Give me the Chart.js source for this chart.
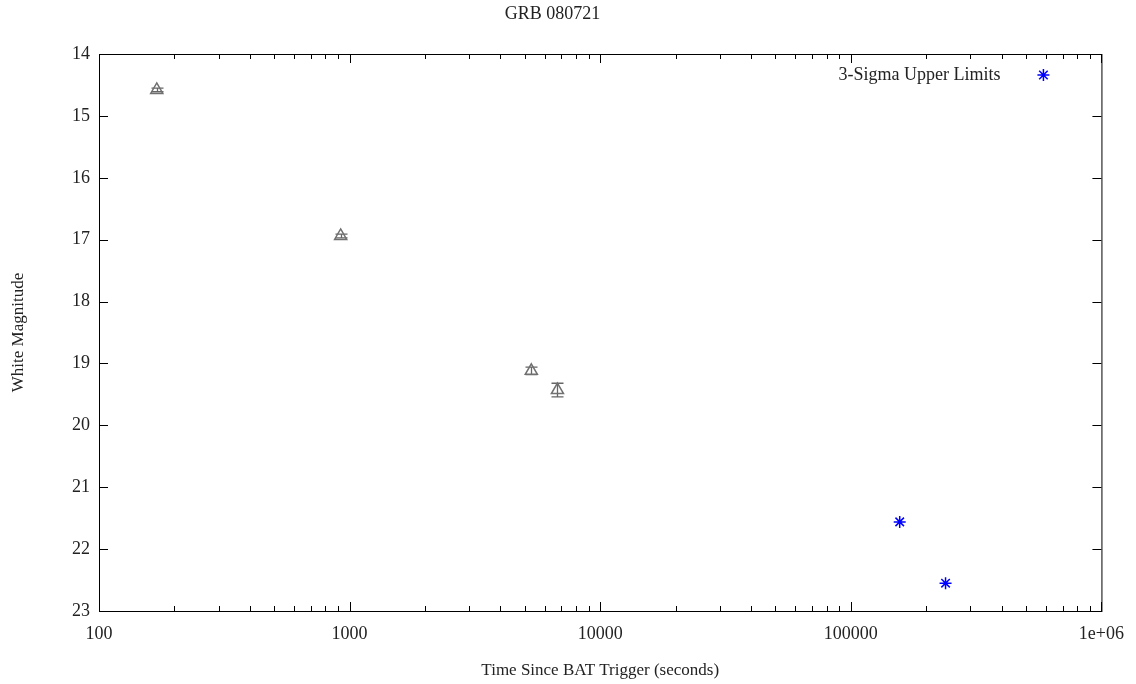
<!DOCTYPE html>
<html>
<head>
<meta charset="utf-8">
<script src="https://cdn.jsdelivr.net/npm/chart.js@4"></script>
<style>
  html, body { margin: 0; padding: 0; background: #fff; }
  #wrap { width: 1136px; height: 684px; }
</style>
</head>
<body>
<div id="wrap"><canvas id="grbChart"></canvas></div>
<script>
// detections (white filter)
const detTimes = [170, 921, 5310, 6750];
const detMags = [14.58, 16.94, 19.12, 19.43];
const detErrs = [0.03, 0.03, 0.06, 0.11];
// 3-sigma upper limits
const ulTimes = [156700, 238800];
const ulMags = [21.56, 22.55];
// axis labels
const xMajorTicks = [100, 1000, 10000, 100000, 1000000];
const xMajorLabels = ['100', '1000', '10000', '100000', '1e+06'];
const yTicks = [14, 15, 16, 17, 18, 19, 20, 21, 22, 23];

const FONT = "'Liberation Serif', 'DejaVu Serif', serif";

const detPoints = detTimes.map((t, i) => ({ x: t, y: detMags[i], err: detErrs[i] }));
const ulPoints = ulTimes.map((t, i) => ({ x: t, y: ulMags[i] }));

// gnuplot-like frame with inward ticks, error bars and key
const framePlugin = {
    id: 'frame',
    beforeDatasetsDraw(chart) {
        const ctx = chart.ctx;
        const a = chart.chartArea;
        const xs = chart.scales.x;
        const ys = chart.scales.y;
        ctx.save();
        ctx.strokeStyle = '#000';
        ctx.lineWidth = 1;
        ctx.strokeRect(a.left + 0.5, a.top + 0.5, a.right - a.left, a.bottom - a.top);
        ctx.beginPath();
        // x ticks: decades and 2..9 minors
        for (let d = 100; d <= 1000000; d *= 10) {
            for (let m = 1; m <= 9; m++) {
                const v = d * m;
                if (v > 1000000) break;
                const px = Math.round(xs.getPixelForValue(v)) + 0.5;
                const len = m === 1 ? 9 : 5;
                ctx.moveTo(px, a.bottom);
                ctx.lineTo(px, a.bottom - len);
                ctx.moveTo(px, a.top);
                ctx.lineTo(px, a.top + len);
            }
        }
        yTicks.forEach(v => {
            const py = Math.round(ys.getPixelForValue(v)) + 0.5;
            ctx.moveTo(a.left, py);
            ctx.lineTo(a.left + 9, py);
            ctx.moveTo(a.right, py);
            ctx.lineTo(a.right - 9, py);
        });
        ctx.stroke();

        // error bars for detections
        ctx.strokeStyle = '#666';
        ctx.lineWidth = 1.3;
        ctx.beginPath();
        detPoints.forEach(p => {
            const px = Math.round(xs.getPixelForValue(p.x)) + 0.5;
            const y1 = ys.getPixelForValue(p.y - p.err);
            const y2 = ys.getPixelForValue(p.y + p.err);
            ctx.moveTo(px, y1);
            ctx.lineTo(px, y2);
            ctx.moveTo(px - 6, y1);
            ctx.lineTo(px + 6, y1);
            ctx.moveTo(px - 6, y2);
            ctx.lineTo(px + 6, y2);
        });
        ctx.stroke();
        ctx.restore();
    },
    afterDatasetsDraw(chart) {
        const ctx = chart.ctx;
        const a = chart.chartArea;
        ctx.save();
        ctx.font = '18px ' + FONT;
        ctx.fillStyle = '#222';
        ctx.textAlign = 'right';
        ctx.textBaseline = 'middle';
        ctx.fillText('3-Sigma Upper Limits', a.right - 101, a.top + 21);
        ctx.strokeStyle = '#0000ff';
        ctx.fillStyle = '#0000ff';
        ctx.lineWidth = 1.5;
        Chart.helpers.drawPoint(ctx, {
            pointStyle: 'star', radius: 6, rotation: 0,
            borderWidth: 1.5
        }, a.right - 58, a.top + 21);
        ctx.restore();
    }
};

// only label the decades
function xLabel(value) {
    const idx = xMajorTicks.indexOf(value);
    return idx >= 0 ? xMajorLabels[idx] : '';
}

new Chart(document.getElementById('grbChart'), {
    type: 'scatter',
    data: {
        datasets: [{
            label: 'White',
            data: detPoints,
            pointStyle: 'triangle',
            pointRadius: 7,
            pointBorderWidth: 1.5,
            borderColor: '#707070',
            backgroundColor: 'rgba(0,0,0,0)'
        }, {
            label: '3-Sigma Upper Limits',
            data: ulPoints,
            pointStyle: 'star',
            pointRadius: 6,
            pointBorderWidth: 1.5,
            borderColor: '#0000ff',
            backgroundColor: '#0000ff'
        }]
    },
    options: {
        responsive: true,
        maintainAspectRatio: false,
        animation: false,
        layout: { padding: { left: 0, right: 31, top: 0, bottom: 0 } },
        plugins: {
            legend: { display: false },
            tooltip: { enabled: false },
            title: {
                display: true,
                text: 'GRB 080721',
                color: '#222',
                font: { family: FONT, size: 18, weight: 'normal', lineHeight: 1.2 },
                padding: { top: 3.2, bottom: 29.2 }
            }
        },
        scales: {
            x: {
                type: 'logarithmic',
                min: 100,
                max: 1000000,
                grid: { display: false, drawTicks: false },
                border: { display: false },
                afterFit(scale) { scale.height = 73; },
                ticks: {
                    autoSkip: false,
                    maxRotation: 0,
                    padding: 12,
                    color: '#222',
                    font: { family: FONT, size: 18 },
                    callback: xLabel
                },
                title: {
                    display: true,
                    text: 'Time Since BAT Trigger (seconds)',
                    color: '#222',
                    font: { family: FONT, size: 17, lineHeight: 1.2 },
                    padding: { top: 0, bottom: 3 }
                }
            },
            y: {
                type: 'linear',
                reverse: true,
                min: 14,
                max: 23,
                grid: { display: false, drawTicks: false },
                border: { display: false },
                afterFit(scale) { scale.width = 99; },
                ticks: {
                    stepSize: 1,
                    padding: 9,
                    color: '#222',
                    font: { family: FONT, size: 18 }
                },
                title: {
                    display: true,
                    text: 'White Magnitude',
                    color: '#222',
                    font: { family: FONT, size: 17, lineHeight: 1.2 },
                    padding: { top: 8, bottom: 0 }
                }
            }
        }
    },
    plugins: [framePlugin]
});
</script>
</body>
</html>
